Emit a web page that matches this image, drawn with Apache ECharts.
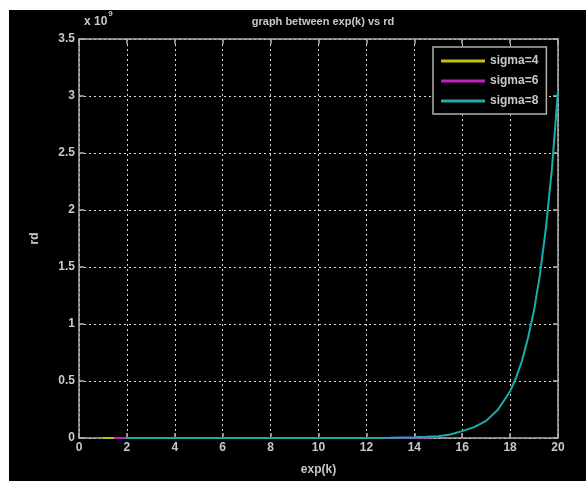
<!DOCTYPE html>
<html>
<head>
<meta charset="utf-8">
<script src="https://cdn.jsdelivr.net/npm/echarts@6/dist/echarts.min.js"></script>
<style>
  html, body { margin: 0; padding: 0; background: #fff; }
  #chart { position: absolute; left: 9px; top: 10px; width: 577px; height: 471px; background: #000; }
</style>
</head>
<body>
<div id="chart"></div>
<script>
// values (rd in absolute units)
const kSigma4 = [1, 1.5, 2]
const rdSigma4 = [0, 0, 0]

const kSigma6 = [1.45, 2, 6, 10, 14, 14.5, 15]
const rdSigma6 = [0, 0, 0, 0, 0.002e9, 0.005e9, 0.009e9]

const kSigma8 = [1.95, 3, 4, 5, 6, 7, 8, 9, 10, 11, 12, 13, 14, 14.5, 15, 15.5, 16, 16.5, 17, 17.5,
  18, 18.25, 18.5, 18.75, 19, 19.25, 19.5, 19.75, 20]
const rdSigma8 = [0, 0, 0, 0, 0, 0, 0, 0, 0, 0.0005e9, 0.001e9, 0.002e9, 0.006e9, 0.01e9, 0.016e9, 0.03e9,
  0.06e9, 0.095e9, 0.15e9, 0.25e9, 0.41e9, 0.53e9, 0.68e9, 0.88e9, 1.12e9, 1.44e9, 1.85e9, 2.37e9, 3.05e9]

const seriesNames = ['sigma=4', 'sigma=6', 'sigma=8']
const seriesColors = ['#c4c400', '#c21fc2', '#1aadad']

const pairs = (xs, ys) => xs.map((x, i) => [x, ys[i]])

const txt = '#c8c8c8'
const axisCol = '#b0b0b0'
const font = 'Liberation Sans, Arial, sans-serif'

const chart = echarts.init(document.getElementById('chart'))

const axisBase = {
  axisLine: { show: true, onZero: false, lineStyle: { color: axisCol, width: 1.5 } },
  axisTick: { show: true, inside: true, length: 5, lineStyle: { color: axisCol, width: 1.5 } }
}
const labelStyle = { color: txt, fontSize: 12, fontWeight: 'bold', fontFamily: font }

chart.setOption({
  animation: false,
  backgroundColor: '#000',
  textStyle: { fontFamily: font },
  title: {
    text: 'graph between exp(k) vs rd',
    left: 309, top: 1, textAlign: 'center',
    textStyle: { color: txt, fontSize: 11, fontWeight: 'bold', fontFamily: font }
  },
  graphic: [{
    type: 'text', left: 75, top: 0,
    style: {
      text: '{a|x 10}{b|9}',
      rich: {
        a: { fill: txt, fontSize: 12, fontWeight: 'bold', fontFamily: font, padding: [6, 0, 0, 0] },
        b: { fill: txt, fontSize: 8, fontWeight: 'bold', fontFamily: font, verticalAlign: 'top', padding: [0, 0, 0, 1] }
      }
    }
  }],
  legend: {
    orient: 'vertical',
    left: 424, top: 37,
    width: 120,
    padding: [8, 8, 7, 8],
    itemWidth: 44, itemHeight: 3, itemGap: 8,
    icon: 'rect',
    backgroundColor: '#000',
    borderColor: axisCol, borderWidth: 1.5,
    textStyle: { ...labelStyle },
    data: seriesNames
  },
  grid: { left: 70, top: 29, right: 28, bottom: 42 },
  xAxis: [{
    ...axisBase,
    type: 'value', min: 0, max: 20, interval: 2,
    name: 'exp(k)', nameLocation: 'middle', nameGap: 26,
    nameTextStyle: { ...labelStyle },
    axisLabel: { ...labelStyle, margin: 4 },
    splitLine: { show: true, lineStyle: { color: '#d8d8d8', type: [2, 3], width: 1 } }
  }, {
    ...axisBase,
    type: 'value', min: 0, max: 20, interval: 2, position: 'top',
    axisLabel: { show: false }, splitLine: { show: false }
  }],
  yAxis: [{
    ...axisBase,
    type: 'value', min: 0, max: 3.5e9, interval: 0.5e9,
    name: 'rd', nameLocation: 'middle', nameGap: 38,
    nameTextStyle: { ...labelStyle },
    axisLabel: { ...labelStyle, margin: 4, formatter: v => String(v / 1e9) },
    splitLine: { show: true, lineStyle: { color: '#d8d8d8', type: [2, 3], width: 1 } }
  }, {
    ...axisBase,
    type: 'value', min: 0, max: 3.5e9, interval: 0.5e9, position: 'right',
    axisLabel: { show: false }, splitLine: { show: false }
  }],
  series: [
    { name: seriesNames[0], type: 'line', data: pairs(kSigma4, rdSigma4) },
    { name: seriesNames[1], type: 'line', data: pairs(kSigma6, rdSigma6) },
    { name: seriesNames[2], type: 'line', data: pairs(kSigma8, rdSigma8) }
  ].map((s, i) => ({
    ...s,
    showSymbol: false, symbol: 'none',
    color: seriesColors[i],
    lineStyle: { color: seriesColors[i], width: 2 },
    z: 3 + i
  }))
})
</script>
</body>
</html>
